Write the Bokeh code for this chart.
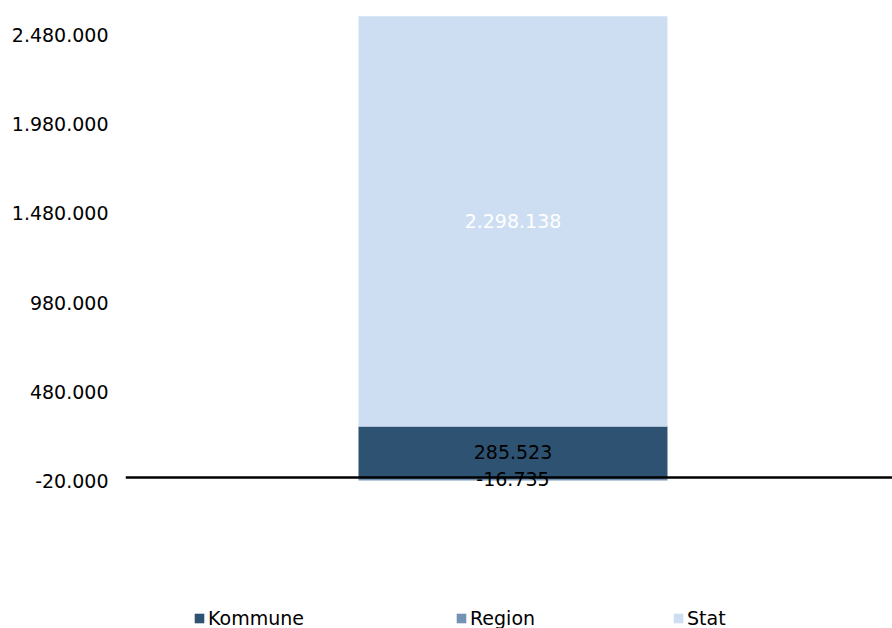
from bokeh.plotting import figure
from bokeh.models import (ColumnDataSource, Range1d, FixedTicker, CustomJSTickFormatter,
                          Span, Legend, LegendItem)
from bokeh.core.properties import value
from bokeh.embed import file_html
from bokeh.resources import INLINE

# ---- data ----
categories = ["Total"]
series_names = ["Kommune", "Region", "Stat"]
kommune = [285523]
region = [-16735]
stat = [2298138]
colors = ["#2e5271", "#7493b4", "#cddef3"]
label_colors = ["black", "black", "white"]
y_ticks = [-20000, 480000, 980000, 1480000, 1980000, 2480000]

FONT = "DejaVu Sans"
FS = "19px"

values = [kommune[0], region[0], stat[0]]
# stacking: positives above zero, negatives below
bottoms, tops = [], []
pos, neg = 0, 0
for v in values:
    if v >= 0:
        bottoms.append(pos); tops.append(pos + v); pos += v
    else:
        bottoms.append(neg); tops.append(neg + v); neg += v

xs = [0] * len(values)
src = ColumnDataSource(dict(
    x=xs, bottom=bottoms, top=tops, color=colors, name=series_names,
    mid=[(b + t) / 2 for b, t in zip(bottoms, tops)],
    label=[f"{v:,}".replace(",", ".") for v in values],
    lcolor=label_colors,
))

p = figure(width=892, height=628, output_backend="svg", toolbar_location=None,
           x_range=Range1d(-1.254, 1.2282), y_range=Range1d(-845900, 2616200),
           min_border_left=125, min_border_right=0, min_border_top=10, min_border_bottom=0)
p.outline_line_color = None
p.xgrid.visible = False
p.ygrid.visible = False
p.xaxis.visible = False

ya = p.yaxis[0]
ya.ticker = FixedTicker(ticks=y_ticks)
ya.formatter = CustomJSTickFormatter(code="""
return Math.round(tick).toString().replace(/\\B(?=(\\d{3})+(?!\\d))/g, '.');
""")
ya.axis_line_color = None
ya.major_tick_line_color = None
ya.minor_tick_line_color = None
ya.major_tick_out = 0
ya.major_tick_in = 0
ya.major_label_standoff = 17
ya.major_label_text_font = FONT
ya.major_label_text_font_size = FS
ya.major_label_text_color = "black"

renderers = []
for i, nm in enumerate(series_names):
    s = ColumnDataSource(dict(x=[xs[i]], bottom=[bottoms[i]], top=[tops[i]]))
    r = p.vbar(x="x", bottom="bottom", top="top", width=1.0, source=s,
               fill_color=colors[i], line_color=None)
    renderers.append(r)

p.add_layout(Span(location=0, dimension="width", line_color="black", line_width=2.5))

p.text(x="x", y="mid", text="label", source=src, text_color="lcolor",
       text_align="center", text_baseline="middle",
       text_font=value(FONT), text_font_size=FS)

leg_x = [68, 330, 547]
for i, nm in enumerate(series_names):
    lg = Legend(items=[LegendItem(label=nm, renderers=[renderers[i]])],
                location=(leg_x[i], -1), orientation="horizontal",
                border_line_color=None, background_fill_alpha=0,
                padding=0, margin=0, glyph_width=12, glyph_height=12,
                label_standoff=3, label_height=14,
                label_text_font=FONT, label_text_font_size=FS,
                label_text_color="black")
    p.add_layout(lg, "center")

open("out.html", "w").write(file_html(p, INLINE))
